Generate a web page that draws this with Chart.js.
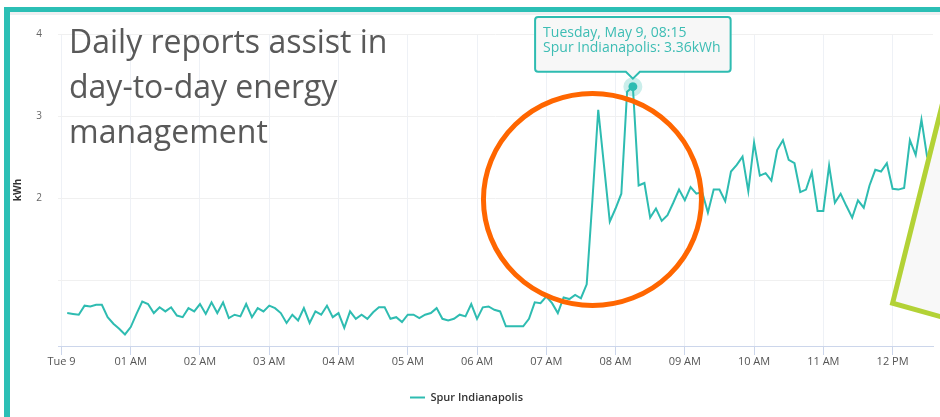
<!DOCTYPE html>
<html>
<head>
<meta charset="utf-8">
<title>Spur Indianapolis – daily energy</title>
<script src="https://cdn.jsdelivr.net/npm/chart.js@4.4.1/dist/chart.umd.min.js"></script>
<style>
html, body { margin: 0; padding: 0; background: #fff; }
#wrap { position: relative; width: 940px; height: 417px; overflow: hidden; }
#chart { position: absolute; left: 0; top: 0; }
.frame { position: absolute; left: 4px; top: 7px; width: 960px; height: 440px;
	border-top: 5px solid #2bbfb5; border-left: 6px solid #2bbfb5; }
.band { position: absolute; left: 10px; top: 12px; width: 930px; height: 3px; background: #eef0f2; }
.note { position: absolute; left: 69px; top: 18px; font-family: "Open Sans"; font-size: 32px;
	line-height: 45px; color: #595959; white-space: nowrap; }
</style>
</head>
<body>
<div id="wrap">
	<canvas id="chart" width="940" height="417"></canvas>
	<div class="band"></div>
	<div class="frame"></div>
	<div class="note">Daily reports assist in<br>day-to-day energy<br>management</div>
</div>
<script>
// 5-minute readings, Tuesday May 9, starting 00:05
const seriesName = 'Spur Indianapolis'
const startMinute = 5
const stepMinutes = 5
const kwh = [
	0.61, 0.60, 0.59, 0.70, 0.69, 0.71, 0.71, 0.56, 0.48, 0.42,
	0.35, 0.44, 0.60, 0.75, 0.72, 0.61, 0.68, 0.63, 0.68, 0.58,
	0.56, 0.67, 0.63, 0.72, 0.60, 0.74, 0.61, 0.74, 0.55, 0.59,
	0.57, 0.72, 0.56, 0.67, 0.63, 0.70, 0.67, 0.61, 0.49, 0.59,
	0.52, 0.67, 0.49, 0.63, 0.59, 0.70, 0.56, 0.61, 0.43, 0.63,
	0.54, 0.59, 0.54, 0.62, 0.68, 0.68, 0.54, 0.56, 0.50, 0.59,
	0.59, 0.55, 0.59, 0.61, 0.67, 0.54, 0.52, 0.54, 0.59, 0.57,
	0.72, 0.54, 0.68, 0.69, 0.65, 0.63, 0.45, 0.45, 0.45, 0.45,
	0.54, 0.74, 0.73, 0.81, 0.73, 0.61, 0.80, 0.78, 0.83, 0.79,
	0.96, 1.99, 3.08, 2.40, 1.72, 1.88, 2.06, 3.30, 3.36, 2.16,
	2.19, 1.77, 1.88, 1.73, 1.80, 1.95, 2.11, 1.98, 2.14, 2.06,
	2.08, 1.83, 2.11, 2.11, 1.97, 2.33, 2.41, 2.51, 2.09, 2.68,
	2.28, 2.31, 2.22, 2.59, 2.71, 2.47, 2.43, 2.08, 2.11, 2.32,
	1.85, 1.85, 2.40, 1.95, 2.06, 1.91, 1.77, 1.98, 1.89, 2.16,
	2.35, 2.33, 2.43, 2.12, 2.11, 2.13, 2.71, 2.53, 2.96, 2.50
]
const xTickLabels = ['Tue 9', '01 AM', '02 AM', '03 AM', '04 AM', '05 AM', '06 AM',
	'07 AM', '08 AM', '09 AM', '10 AM', '11 AM', '12 PM']
const yTicks = [1, 2, 3, 4]

// annotation anchors, in data units (minutes, kWh)
const circleCenter = [460, 1.99]
const calloutCorner = [720, 0.73]

const teal = '#2ebcb1'
const tipText = '#3dbdb4'

function clock(min) {
	const h = Math.floor(min / 60), m = min % 60
	return String(h).padStart(2, '0') + ':' + String(m).padStart(2, '0')
}

const points = kwh.map((v, i) => ({ x: startMinute + i * stepMinutes, y: v }))
const peakIndex = kwh.indexOf(Math.max(...kwh))

const overlays = {
	id: 'overlays',
	afterDatasetsDraw(chart) {
		const ctx = chart.ctx
		const xs = chart.scales.x, ys = chart.scales.y

		// halo round the hovered point
		chart.getActiveElements().forEach(a => {
			const el = a.element
			ctx.save()
			ctx.beginPath()
			ctx.arc(el.x, el.y, 9.5, 0, Math.PI * 2)
			ctx.arc(el.x, el.y, 4.5, 0, Math.PI * 2, true)
			ctx.fillStyle = 'rgba(46,188,177,0.25)'
			ctx.fill()
			ctx.restore()
		})

		// orange ring
		const cx = xs.getPixelForValue(circleCenter[0])
		const cy = ys.getPixelForValue(circleCenter[1])
		ctx.save()
		ctx.beginPath()
		ctx.ellipse(cx, cy, 109, 106, 0, 0, Math.PI * 2)
		ctx.lineWidth = 5
		ctx.strokeStyle = '#ff6600'
		ctx.stroke()

		// green callout edge on the right
		const gx = xs.getPixelForValue(calloutCorner[0])
		const gy = ys.getPixelForValue(calloutCorner[1])
		ctx.beginPath()
		ctx.moveTo(gx + 53, gy - 212)
		ctx.lineTo(gx, gy)
		ctx.lineTo(gx + 57, gy + 16)
		ctx.lineTo(gx + 80, gy + 16)
		ctx.lineTo(gx + 80, gy - 212)
		ctx.closePath()
		ctx.fillStyle = '#f8f8f8'
		ctx.fill()
		ctx.beginPath()
		ctx.moveTo(gx + 53, gy - 212)
		ctx.lineTo(gx, gy)
		ctx.lineTo(gx + 57, gy + 16)
		ctx.lineWidth = 5
		ctx.lineJoin = 'miter'
		ctx.strokeStyle = '#b3d236'
		ctx.stroke()
		ctx.restore()
	}
}

Chart.defaults.font.family = '"Open Sans", sans-serif'

const chart = new Chart(document.getElementById('chart'), {
	type: 'line',
	data: {
		datasets: [{
			label: seriesName,
			data: points,
			borderColor: teal,
			backgroundColor: teal,
			borderWidth: 2,
			tension: 0,
			pointRadius: 0,
			pointHitRadius: 0,
			pointHoverRadius: 4.5,
			pointHoverBorderWidth: 0,
			pointHoverBackgroundColor: teal
		}]
	},
	options: {
		responsive: false,
		animation: false,
		events: [],
		layout: { padding: { top: 34, right: 7, bottom: 4, left: 0 } },
		scales: {
			x: {
				type: 'linear',
				min: -3,
				max: 755,
				afterBuildTicks: s => { s.ticks = xTickLabels.map((_, i) => ({ value: i * 60 })) },
				afterFit: s => { s.height = 36 },
				ticks: {
					autoSkip: false,
					maxRotation: 0,
					padding: 0,
					color: '#555',
					font: { size: 11 },
					callback: v => xTickLabels[Math.round(v / 60)]
				},
				grid: { color: '#eef1f6', tickColor: '#ccd6eb', tickLength: 9 },
				border: { color: '#ccd6eb' }
			},
			y: {
				min: 0.21,
				max: 4,
				afterBuildTicks: s => { s.ticks = yTicks.map(v => ({ value: v })) },
				afterFit: s => { s.width = 58 },
				ticks: {
					padding: 16,
					color: '#666',
					font: { size: 10 },
					callback: v => (v === 1 ? '' : v)
				},
				grid: { color: '#f0f0f0', drawTicks: false },
				border: { display: false },
				title: { display: true, text: 'kWh', color: '#333', font: { size: 10, weight: 'bold' }, padding: { top: 12, bottom: 0 } }
			}
		},
		plugins: {
			legend: {
				position: 'bottom',
				labels: {
					boxWidth: 15,
					boxHeight: 2,
					padding: 10,
					color: '#333',
					font: { size: 11, weight: '600' },
					generateLabels: c => Chart.defaults.plugins.legend.labels.generateLabels(c).map(l => ({ ...l, lineWidth: 0, fillStyle: teal }))
				}
			},
			tooltip: {
				backgroundColor: 'rgba(247,247,247,0.95)',
				borderColor: teal,
				borderWidth: 2,
				cornerRadius: 3,
				titleColor: tipText,
				bodyColor: tipText,
				titleFont: { size: 14, weight: 'normal', lineHeight: 1.1 },
				bodyFont: { size: 14, weight: 'normal', lineHeight: 1.1 },
				titleMarginBottom: 0,
				bodySpacing: 0,
				padding: { top: 8, bottom: 16, left: 8, right: 10 },
				displayColors: false,
				caretSize: 7,
				caretPadding: 8,
				xAlign: 'center',
				yAlign: 'bottom',
				callbacks: {
					title: items => 'Tuesday, May 9, ' + clock(items[0].parsed.x),
					label: item => item.dataset.label + ': ' + item.parsed.y.toFixed(2) + 'kWh'
				}
			}
		}
	},
	plugins: [overlays]
})

const peak = chart.getDatasetMeta(0).data[peakIndex]
chart.setActiveElements([{ datasetIndex: 0, index: peakIndex }])
chart.tooltip.setActiveElements([{ datasetIndex: 0, index: peakIndex }], { x: peak.x, y: peak.y })
chart.update()
</script>
</body>
</html>
